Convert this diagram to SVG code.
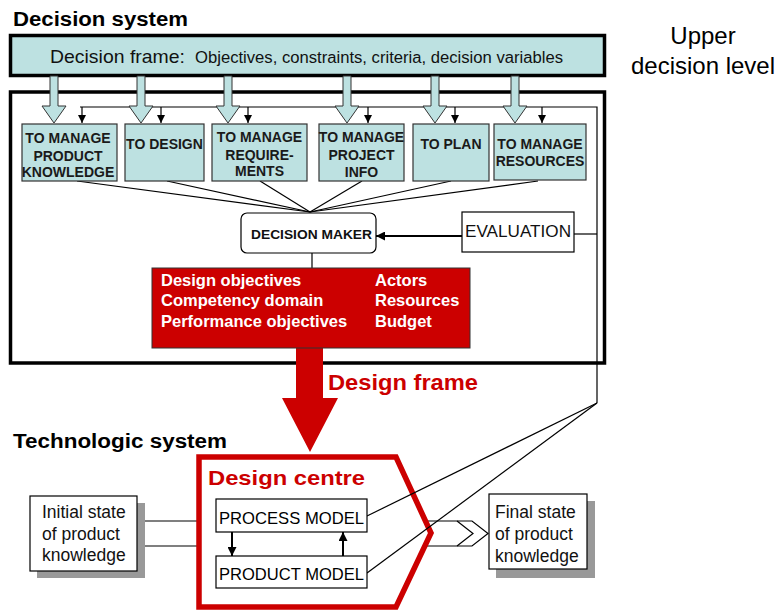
<svg xmlns="http://www.w3.org/2000/svg" width="780" height="612" viewBox="0 0 780 612">
<defs>
<style>
text{font-family:"Liberation Sans",Arial,Helvetica,sans-serif;}
.title{font-size:20px;font-weight:bold;fill:#000;}
.bt{font-size:14px;font-weight:bold;fill:#1a1a1a;text-anchor:middle;}
.blue{fill:#bde1e1;stroke:#333;stroke-width:1.2;}
.bigarr{fill:#bde1e1;stroke:#333;stroke-width:1;}
.ln{stroke:#000;stroke-width:1.2;fill:none;}
.reg{font-size:17.5px;fill:#111;}
.wt{font-size:16.5px;font-weight:bold;fill:#fff;}
.red{fill:#cc0000;font-weight:bold;}
</style>
<marker id="ah" viewBox="0 0 10 10" refX="10" refY="5" markerWidth="8" markerHeight="9" markerUnits="userSpaceOnUse" orient="auto"><path d="M0,0 L10,5 L0,10 z" fill="#000"/></marker>
<marker id="ah2" viewBox="0 0 10 10" refX="10" refY="5" markerWidth="10" markerHeight="9" markerUnits="userSpaceOnUse" orient="auto"><path d="M0,0 L10,5 L0,10 z" fill="#000"/></marker>
</defs>
<rect width="780" height="612" fill="#fff"/>

<g id="labels">
<text class="title" x="13" y="26" textLength="175" lengthAdjust="spacingAndGlyphs">Decision system</text>
<text class="title" x="13" y="448" textLength="214" lengthAdjust="spacingAndGlyphs">Technologic system</text>
<text x="703" y="44" font-size="24" text-anchor="middle" fill="#000">Upper</text>
<text x="703" y="74" font-size="24" text-anchor="middle" fill="#000">decision level</text>
<text class="red" x="328" y="390" font-size="22" textLength="150" lengthAdjust="spacingAndGlyphs">Design frame</text>
</g>

<g id="decision-system">
<rect x="10.5" y="92" width="594" height="271" fill="#fff" stroke="#000" stroke-width="3.5"/>
</g>

<g id="decision-frame">
<rect x="10.5" y="35.5" width="594" height="40" fill="#bde1e1" stroke="#000" stroke-width="3.5"/>
<text x="50" y="63" font-size="19" fill="#111" textLength="135" lengthAdjust="spacingAndGlyphs">Decision frame:</text>
<text x="195" y="63" font-size="16" fill="#111" textLength="368" lengthAdjust="spacingAndGlyphs">Objectives, constraints, criteria, decision variables</text>
</g>

<g id="connectors">
<polyline class="ln" points="80,107 597,107 597,403"/>
<line class="ln" x1="82" y1="107" x2="82" y2="123" marker-end="url(#ah)"/>
<line class="ln" x1="161" y1="107" x2="161" y2="123" marker-end="url(#ah)"/>
<line class="ln" x1="248" y1="107" x2="248" y2="123" marker-end="url(#ah)"/>
<line class="ln" x1="368" y1="107" x2="368" y2="123" marker-end="url(#ah)"/>
<line class="ln" x1="455" y1="107" x2="455" y2="123" marker-end="url(#ah)"/>
<line class="ln" x1="542" y1="107" x2="542" y2="123" marker-end="url(#ah)"/>
<line class="ln" x1="77" y1="181" x2="310" y2="212"/>
<line class="ln" x1="167" y1="181" x2="310" y2="212"/>
<line class="ln" x1="260" y1="181" x2="310" y2="212"/>
<line class="ln" x1="362" y1="181" x2="310" y2="212"/>
<line class="ln" x1="451" y1="181" x2="310" y2="212"/>
<line class="ln" x1="538" y1="181" x2="310" y2="212"/>
<line class="ln" x1="574" y1="234" x2="597" y2="234"/>
<line x1="462" y1="236" x2="376" y2="236" stroke="#000" stroke-width="2.2" marker-end="url(#ah2)"/>
<line class="ln" x1="312" y1="253" x2="312" y2="268"/>
<polygon class="bigarr" points="50,76 58,76 58,106 66,106 54,123 42,106 50,106"/>
<polygon class="bigarr" points="137,76 145,76 145,106 153,106 141,123 129,106 137,106"/>
<polygon class="bigarr" points="224,76 232,76 232,106 240,106 228,123 216,106 224,106"/>
<polygon class="bigarr" points="343,76 351,76 351,106 359,106 347,123 335,106 343,106"/>
<polygon class="bigarr" points="431,76 439,76 439,106 447,106 435,123 423,106 431,106"/>
<polygon class="bigarr" points="511,76 519,76 519,106 527,106 515,123 503,106 511,106"/>
<polygon points="296,347 323,347 323,398 338,398 310,452 282,398 296,398" fill="#cc0000"/>
<line class="ln" x1="137" y1="521" x2="199" y2="521"/>
<line class="ln" x1="137" y1="546" x2="199" y2="546"/>
<polygon points="405,521 472,521 488,533.5 472,546 405,546" fill="#fff" stroke="#000" stroke-width="1.2"/>
<polyline class="ln" points="457,521 473,533.5 457,546"/>
</g>

<g id="design-centre">
<polygon points="199,457 396,457 431,533 396,607 199,607" fill="#fff" stroke="#cc0000" stroke-width="5.5" stroke-linejoin="miter"/>
<text class="red" x="208" y="485" font-size="21" textLength="157" lengthAdjust="spacingAndGlyphs">Design centre</text>
</g>

<g id="feedback-lines">
<line class="ln" x1="597" y1="403" x2="367" y2="516"/>
<line class="ln" x1="597" y1="403" x2="367" y2="573"/>
<line x1="232" y1="532" x2="232" y2="556" stroke="#000" stroke-width="2" marker-end="url(#ah2)"/>
<line x1="343" y1="556" x2="343" y2="532" stroke="#000" stroke-width="2" marker-end="url(#ah2)"/>
</g>

<g id="process-model">
<rect x="216" y="499" width="151" height="33" fill="#fff" stroke="#000" stroke-width="1.2"/>
<text x="219" y="524" font-size="16.5" fill="#000" textLength="145" lengthAdjust="spacingAndGlyphs">PROCESS MODEL</text>
</g>
<g id="product-model">
<rect x="216" y="556" width="151" height="32" fill="#fff" stroke="#000" stroke-width="1.2"/>
<text x="219" y="580" font-size="16.5" fill="#000" textLength="145" lengthAdjust="spacingAndGlyphs">PRODUCT MODEL</text>
</g>

<g id="box-product-knowledge">
<rect class="blue" x="22" y="124" width="95" height="57"/>
<text class="bt" x="68" y="143">TO MANAGE</text>
<text class="bt" x="68" y="161">PRODUCT</text>
<text class="bt" x="68" y="177">KNOWLEDGE</text>
</g>
<g id="box-design">
<rect class="blue" x="125" y="124" width="79" height="57"/>
<text class="bt" x="164.5" y="149">TO DESIGN</text>
</g>
<g id="box-requirements">
<rect class="blue" x="212" y="124" width="95" height="57"/>
<text class="bt" x="259.5" y="142">TO MANAGE</text>
<text class="bt" x="259.5" y="160">REQUIRE-</text>
<text class="bt" x="259.5" y="176">MENTS</text>
</g>
<g id="box-project">
<rect class="blue" x="319" y="124" width="85" height="57"/>
<text class="bt" x="361.5" y="142">TO MANAGE</text>
<text class="bt" x="361.5" y="160">PROJECT</text>
<text class="bt" x="361.5" y="177">INFO</text>
</g>
<g id="box-plan">
<rect class="blue" x="413" y="124" width="76" height="57"/>
<text class="bt" x="451" y="149">TO PLAN</text>
</g>
<g id="box-resources">
<rect class="blue" x="494" y="124" width="92" height="56"/>
<text class="bt" x="540" y="149">TO MANAGE</text>
<text class="bt" x="540" y="166">RESOURCES</text>
</g>

<g id="decision-maker">
<rect x="241" y="213" width="135" height="40" rx="6" fill="#fff" stroke="#000" stroke-width="1.2"/>
<text x="251" y="239" font-size="13.5" font-weight="bold" fill="#111" textLength="121" lengthAdjust="spacingAndGlyphs">DECISION MAKER</text>
</g>

<g id="evaluation">
<rect x="462" y="212" width="112" height="40" fill="#fff" stroke="#000" stroke-width="1.2"/>
<text x="465" y="237" font-size="16.5" fill="#111" textLength="106" lengthAdjust="spacingAndGlyphs">EVALUATION</text>
</g>

<g id="design-frame-box">
<rect x="152" y="268" width="318" height="80" fill="#cc0000" stroke="#333" stroke-width="1"/>
<text class="wt" x="161" y="286">Design objectives</text>
<text class="wt" x="161" y="306">Competency domain</text>
<text class="wt" x="161" y="327">Performance objectives</text>
<text class="wt" x="375" y="286">Actors</text>
<text class="wt" x="375" y="306">Resources</text>
<text class="wt" x="375" y="327">Budget</text>
</g>

<g id="initial-state">
<rect x="37" y="503" width="108" height="75" fill="#999"/>
<rect x="30" y="496" width="107" height="75" fill="#fff" stroke="#000" stroke-width="1.2"/>
<text class="reg" x="42" y="518">Initial state</text>
<text class="reg" x="42" y="540">of product</text>
<text class="reg" x="42" y="561">knowledge</text>
</g>

<g id="final-state">
<rect x="496" y="501" width="99" height="77" fill="#999"/>
<rect x="489" y="494" width="98" height="75" fill="#fff" stroke="#000" stroke-width="1.2"/>
<text class="reg" x="495" y="518">Final state</text>
<text class="reg" x="495" y="540">of product</text>
<text class="reg" x="495" y="562">knowledge</text>
</g>
</svg>
